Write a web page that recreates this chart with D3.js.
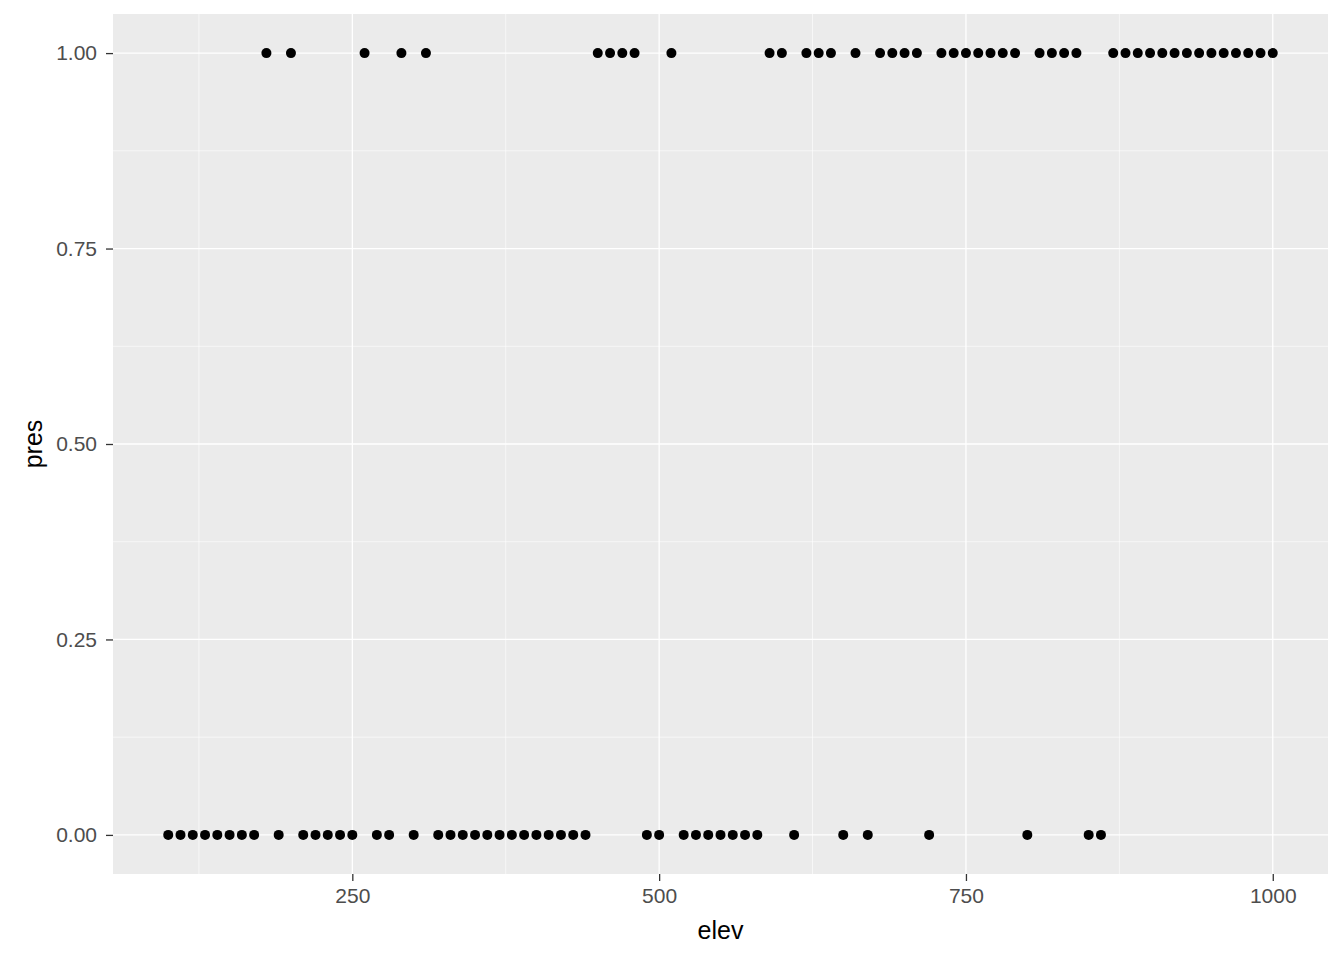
<!DOCTYPE html>
<html>
<head>
<meta charset="utf-8">
<script src="https://cdn.jsdelivr.net/npm/d3@7"></script>
<style>
  body { margin: 0; background: #fff; }
  text { font-family: "Liberation Sans", Arial, sans-serif; }
</style>
</head>
<body>
<div id="chart"></div>
<script>
// elevations sampled every 10 m, 100..1000
var elev = [100,110,120,130,140,150,160,170,180,190,200,210,220,230,240,250,260,270,280,290,
            300,310,320,330,340,350,360,370,380,390,400,410,420,430,440,450,460,470,480,490,
            500,510,520,530,540,550,560,570,580,590,600,610,620,630,640,650,660,670,680,690,
            700,710,720,730,740,750,760,770,780,790,800,810,820,830,840,850,860,870,880,890,
            900,910,920,930,940,950,960,970,980,990,1000];
var pres = [0,0,0,0,0,0,0,0,1,0,1,0,0,0,0,0,1,0,0,1,
            0,1,0,0,0,0,0,0,0,0,0,0,0,0,0,1,1,1,1,0,
            0,1,0,0,0,0,0,0,0,1,1,0,1,1,1,0,1,0,1,1,
            1,1,0,1,1,1,1,1,1,1,0,1,1,1,1,0,0,1,1,1,
            1,1,1,1,1,1,1,1,1,1,1];
var xTicks = [250, 500, 750, 1000];
var yTicks = [0, 0.25, 0.5, 0.75, 1];
var xMinor = [125, 375, 625, 875];
var yMinor = [0.125, 0.375, 0.625, 0.875];

var width = 1344, height = 960;
var margin = {left: 113, right: 16, top: 14, bottom: 86};

var x = d3.scaleLinear().domain([55, 1045]).range([margin.left, width - margin.right]);
var y = d3.scaleLinear().domain([-0.05, 1.05]).range([height - margin.bottom, margin.top]);

var svg = d3.select("#chart").append("svg")
  .attr("width", width)
  .attr("height", height);

svg.append("rect")
  .attr("x", margin.left).attr("y", margin.top)
  .attr("width", width - margin.left - margin.right)
  .attr("height", height - margin.top - margin.bottom)
  .attr("fill", "#ebebeb");

var grid = svg.append("g");
grid.selectAll(".xminor").data(xMinor).enter().append("line")
  .attr("x1", x).attr("x2", x)
  .attr("y1", margin.top).attr("y2", height - margin.bottom)
  .attr("stroke", "#fff").attr("stroke-width", 0.6);
grid.selectAll(".yminor").data(yMinor).enter().append("line")
  .attr("y1", y).attr("y2", y)
  .attr("x1", margin.left).attr("x2", width - margin.right)
  .attr("stroke", "#fff").attr("stroke-width", 0.6);
grid.selectAll(".xmajor").data(xTicks).enter().append("line")
  .attr("x1", x).attr("x2", x)
  .attr("y1", margin.top).attr("y2", height - margin.bottom)
  .attr("stroke", "#fff").attr("stroke-width", 1.3);
grid.selectAll(".ymajor").data(yTicks).enter().append("line")
  .attr("y1", y).attr("y2", y)
  .attr("x1", margin.left).attr("x2", width - margin.right)
  .attr("stroke", "#fff").attr("stroke-width", 1.3);

var data = elev.map(function(e, i) { return {elev: e, pres: pres[i]}; });
svg.append("g").selectAll("circle").data(data).enter().append("circle")
  .attr("cx", function(d) { return x(d.elev); })
  .attr("cy", function(d) { return y(d.pres); })
  .attr("r", 5)
  .attr("fill", "#000");

var xAxis = svg.append("g")
  .attr("transform", "translate(0," + (height - margin.bottom) + ")")
  .call(d3.axisBottom(x).tickValues(xTicks).tickSize(7).tickPadding(7).tickFormat(d3.format("d")));
var yAxis = svg.append("g")
  .attr("transform", "translate(" + margin.left + ",0)")
  .call(d3.axisLeft(y).tickValues(yTicks).tickSize(7).tickPadding(9).tickFormat(d3.format(".2f")));

[xAxis, yAxis].forEach(function(a) {
  a.select(".domain").remove();
  a.selectAll(".tick line").attr("stroke", "#333").attr("stroke-width", 1.3);
  a.selectAll(".tick text").attr("fill", "#4d4d4d").style("font-size", "21px")
    .style("font-family", "'Liberation Sans', Arial, sans-serif");
});

svg.append("text")
  .attr("x", (margin.left + width - margin.right) / 2)
  .attr("y", 939)
  .attr("text-anchor", "middle")
  .style("font-size", "25px")
  .text("elev");

svg.append("text")
  .attr("transform", "translate(42," + ((margin.top + height - margin.bottom) / 2) + ") rotate(-90)")
  .attr("text-anchor", "middle")
  .style("font-size", "25px")
  .text("pres");
</script>
</body>
</html>
